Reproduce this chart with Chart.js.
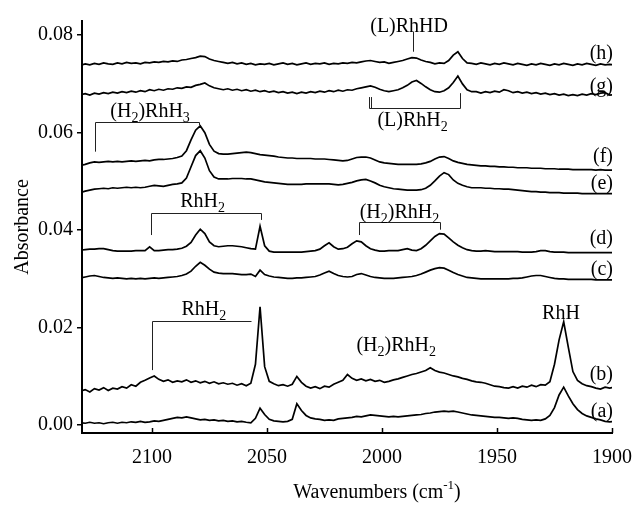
<!DOCTYPE html>
<html><head><meta charset="utf-8">
<script src="https://cdn.jsdelivr.net/npm/chart.js@4/dist/chart.umd.min.js"></script>
<style>html,body{margin:0;padding:0;background:#fff;}canvas{display:block;}</style>
</head><body>
<canvas id="c" width="634" height="506"></canvas>
<script>
const wavenumbers = [2131,2129,2127,2125,2123,2121,2119,2117,2115,2113,
2111,2109,2107,2105,2103,2101,2099,2097,2095,2093,
2091,2089,2087,2085,2083,2081,2079,2077,2075,2073,
2071,2069,2067,2065,2063,2061,2059,2057,2055,2053,
2051,2049,2047,2045,2043,2041,2039,2037,2035,2033,
2031,2029,2027,2025,2023,2021,2019,2017,2015,2013,
2011,2009,2007,2005,2003,2001,1999,1997,1995,1993,
1991,1989,1987,1985,1983,1981,1979,1977,1975,1973,
1971,1969,1967,1965,1963,1961,1959,1957,1955,1953,
1951,1949,1947,1945,1943,1941,1939,1937,1935,1933,
1931,1929,1927,1925,1923,1921,1919,1917,1915,1913,
1911,1909,1907,1905,1903,1901,1899];

const traceA = [0.0005,0.0004,0.0006,0.0004,0.0005,0.0003,0.0005,0.0006,0.0004,0.0006,
0.0005,0.0007,0.0006,0.0008,0.0006,0.0007,0.0009,0.0008,0.0010,0.0012,
0.0014,0.0016,0.0015,0.0017,0.0015,0.0013,0.0011,0.0012,0.0010,0.0011,
0.0009,0.0010,0.0008,0.0009,0.0007,0.0008,0.0006,0.0005,0.0014,0.0035,
0.0022,0.0012,0.0009,0.0008,0.0007,0.0008,0.0012,0.0044,0.0030,0.0020,
0.0015,0.0013,0.0012,0.0010,0.0011,0.0010,0.0013,0.0014,0.0015,0.0016,
0.0018,0.0017,0.0019,0.0021,0.0020,0.0019,0.0018,0.0017,0.0018,0.0017,
0.0018,0.0019,0.0020,0.0021,0.0022,0.0024,0.0025,0.0027,0.0028,0.0029,
0.0028,0.0029,0.0027,0.0025,0.0023,0.0021,0.0020,0.0019,0.0018,0.0017,
0.0016,0.0016,0.0015,0.0014,0.0015,0.0014,0.0012,0.0011,0.0010,0.0011,
0.0010,0.0013,0.0020,0.0036,0.0062,0.0078,0.0060,0.0044,0.0032,0.0024,
0.0019,0.0016,0.0013,0.0011,0.0008,0.0007,0.0008];

const traceB = [0.0070,0.0073,0.0068,0.0075,0.0072,0.0077,0.0071,0.0076,0.0074,0.0079,
0.0076,0.0083,0.0080,0.0088,0.0092,0.0097,0.0101,0.0094,0.0090,0.0093,
0.0088,0.0091,0.0089,0.0093,0.0088,0.0091,0.0087,0.0090,0.0086,0.0089,
0.0085,0.0087,0.0084,0.0086,0.0082,0.0085,0.0081,0.0086,0.0125,0.0243,
0.0120,0.0090,0.0085,0.0081,0.0083,0.0080,0.0084,0.0100,0.0088,0.0080,
0.0076,0.0079,0.0075,0.0080,0.0078,0.0084,0.0088,0.0092,0.0104,0.0096,
0.0092,0.0095,0.0091,0.0094,0.0090,0.0092,0.0088,0.0090,0.0093,0.0095,
0.0098,0.0101,0.0104,0.0106,0.0109,0.0112,0.0118,0.0112,0.0109,0.0107,
0.0104,0.0101,0.0099,0.0096,0.0094,0.0091,0.0089,0.0088,0.0086,0.0083,
0.0080,0.0079,0.0077,0.0076,0.0079,0.0076,0.0080,0.0078,0.0082,0.0079,
0.0083,0.0082,0.0089,0.0125,0.0175,0.0212,0.0160,0.0110,0.0092,0.0085,
0.0081,0.0079,0.0076,0.0074,0.0078,0.0076,0.0078];

const traceC = [0.0302,0.0304,0.0306,0.0307,0.0305,0.0303,0.0302,0.0301,0.0302,0.0301,
0.0300,0.0301,0.0300,0.0301,0.0300,0.0301,0.0302,0.0301,0.0302,0.0303,
0.0304,0.0305,0.0307,0.0310,0.0316,0.0326,0.0334,0.0328,0.0320,0.0314,
0.0312,0.0311,0.0311,0.0311,0.0310,0.0309,0.0309,0.0310,0.0305,0.0318,
0.0309,0.0306,0.0304,0.0303,0.0302,0.0301,0.0301,0.0302,0.0302,0.0303,
0.0304,0.0305,0.0308,0.0312,0.0316,0.0311,0.0307,0.0305,0.0304,0.0305,
0.0309,0.0311,0.0308,0.0305,0.0303,0.0302,0.0301,0.0301,0.0301,0.0302,
0.0303,0.0304,0.0305,0.0307,0.0310,0.0314,0.0318,0.0321,0.0323,0.0322,
0.0318,0.0313,0.0309,0.0306,0.0303,0.0302,0.0301,0.0300,0.0300,0.0300,
0.0300,0.0300,0.0300,0.0300,0.0301,0.0301,0.0302,0.0304,0.0306,0.0307,
0.0307,0.0305,0.0303,0.0301,0.0300,0.0300,0.0299,0.0299,0.0299,0.0299,
0.0299,0.0299,0.0298,0.0298,0.0298,0.0298,0.0298];

const traceD = [0.0359,0.0360,0.0361,0.0361,0.0362,0.0362,0.0360,0.0358,0.0357,0.0357,
0.0357,0.0357,0.0358,0.0358,0.0358,0.0366,0.0358,0.0358,0.0359,0.0360,
0.0360,0.0361,0.0363,0.0367,0.0375,0.0390,0.0402,0.0393,0.0376,0.0368,
0.0366,0.0367,0.0368,0.0368,0.0367,0.0366,0.0364,0.0362,0.0361,0.0408,
0.0368,0.0357,0.0355,0.0355,0.0355,0.0355,0.0355,0.0355,0.0355,0.0356,
0.0357,0.0358,0.0361,0.0368,0.0374,0.0366,0.0361,0.0362,0.0365,0.0372,
0.0378,0.0376,0.0368,0.0362,0.0359,0.0357,0.0357,0.0358,0.0358,0.0358,
0.0360,0.0362,0.0359,0.0358,0.0362,0.0369,0.0378,0.0387,0.0393,0.0392,
0.0384,0.0376,0.0369,0.0364,0.0360,0.0358,0.0357,0.0357,0.0358,0.0357,
0.0356,0.0356,0.0356,0.0356,0.0356,0.0356,0.0355,0.0355,0.0355,0.0356,
0.0358,0.0358,0.0356,0.0355,0.0355,0.0355,0.0354,0.0354,0.0354,0.0354,
0.0354,0.0354,0.0354,0.0354,0.0354,0.0354,0.0354];

const traceE = [0.0477,0.0480,0.0482,0.0484,0.0485,0.0486,0.0485,0.0487,0.0486,0.0487,
0.0488,0.0487,0.0488,0.0487,0.0488,0.0490,0.0492,0.0491,0.0490,0.0492,
0.0494,0.0495,0.0497,0.0507,0.0530,0.0553,0.0563,0.0548,0.0522,0.0509,
0.0505,0.0505,0.0505,0.0506,0.0506,0.0506,0.0505,0.0505,0.0503,0.0501,
0.0499,0.0498,0.0497,0.0496,0.0495,0.0494,0.0494,0.0494,0.0494,0.0495,
0.0495,0.0495,0.0495,0.0495,0.0495,0.0494,0.0493,0.0494,0.0496,0.0498,
0.0501,0.0503,0.0504,0.0501,0.0497,0.0492,0.0489,0.0487,0.0485,0.0484,
0.0483,0.0482,0.0482,0.0482,0.0483,0.0486,0.0492,0.0501,0.0511,0.0518,
0.0514,0.0503,0.0496,0.0492,0.0489,0.0487,0.0487,0.0487,0.0486,0.0486,
0.0485,0.0485,0.0484,0.0484,0.0483,0.0482,0.0481,0.0480,0.0479,0.0479,
0.0478,0.0478,0.0477,0.0477,0.0477,0.0476,0.0476,0.0476,0.0476,0.0475,
0.0475,0.0475,0.0475,0.0475,0.0475,0.0475,0.0475];

const traceF = [0.0533,0.0535,0.0538,0.0540,0.0539,0.0540,0.0541,0.0540,0.0541,0.0540,
0.0541,0.0542,0.0541,0.0542,0.0543,0.0542,0.0544,0.0545,0.0545,0.0546,
0.0547,0.0549,0.0552,0.0563,0.0585,0.0605,0.0614,0.0600,0.0576,0.0562,
0.0557,0.0556,0.0556,0.0557,0.0558,0.0559,0.0560,0.0559,0.0557,0.0555,
0.0554,0.0553,0.0552,0.0550,0.0549,0.0548,0.0548,0.0547,0.0547,0.0547,
0.0547,0.0546,0.0546,0.0546,0.0545,0.0544,0.0543,0.0542,0.0543,0.0546,
0.0549,0.0550,0.0550,0.0548,0.0544,0.0540,0.0538,0.0537,0.0536,0.0535,
0.0535,0.0535,0.0535,0.0535,0.0536,0.0538,0.0541,0.0546,0.0550,0.0551,
0.0547,0.0542,0.0539,0.0537,0.0535,0.0534,0.0533,0.0532,0.0532,0.0531,
0.0531,0.0530,0.0530,0.0529,0.0529,0.0528,0.0528,0.0528,0.0527,0.0527,
0.0527,0.0526,0.0526,0.0526,0.0525,0.0525,0.0525,0.0524,0.0524,0.0524,
0.0524,0.0524,0.0523,0.0524,0.0523,0.0523,0.0523];

const traceG = [0.0678,0.0680,0.0677,0.0681,0.0679,0.0682,0.0680,0.0683,0.0681,0.0684,
0.0682,0.0685,0.0683,0.0686,0.0684,0.0688,0.0686,0.0689,0.0687,0.0690,
0.0689,0.0692,0.0691,0.0694,0.0693,0.0697,0.0699,0.0702,0.0696,0.0692,
0.0690,0.0688,0.0690,0.0687,0.0689,0.0686,0.0688,0.0685,0.0687,0.0684,
0.0686,0.0683,0.0685,0.0682,0.0684,0.0681,0.0683,0.0680,0.0683,0.0681,
0.0684,0.0682,0.0685,0.0683,0.0686,0.0684,0.0687,0.0685,0.0688,0.0687,
0.0690,0.0692,0.0694,0.0696,0.0693,0.0689,0.0686,0.0684,0.0686,0.0688,
0.0692,0.0697,0.0704,0.0707,0.0701,0.0694,0.0688,0.0684,0.0683,0.0686,
0.0692,0.0703,0.0716,0.0700,0.0688,0.0684,0.0684,0.0681,0.0684,0.0682,
0.0685,0.0683,0.0688,0.0686,0.0682,0.0684,0.0681,0.0683,0.0680,0.0682,
0.0679,0.0681,0.0678,0.0680,0.0677,0.0679,0.0676,0.0678,0.0676,0.0679,
0.0677,0.0680,0.0678,0.0681,0.0682,0.0677,0.0678];

const traceH = [0.0738,0.0741,0.0739,0.0742,0.0740,0.0743,0.0741,0.0740,0.0743,0.0741,
0.0744,0.0742,0.0743,0.0741,0.0744,0.0743,0.0745,0.0744,0.0746,0.0745,
0.0747,0.0746,0.0749,0.0750,0.0752,0.0754,0.0757,0.0756,0.0751,0.0748,
0.0746,0.0744,0.0742,0.0744,0.0741,0.0743,0.0740,0.0742,0.0739,0.0741,
0.0740,0.0742,0.0739,0.0741,0.0743,0.0740,0.0742,0.0739,0.0741,0.0743,
0.0740,0.0742,0.0741,0.0743,0.0740,0.0742,0.0741,0.0743,0.0742,0.0744,
0.0743,0.0745,0.0747,0.0748,0.0746,0.0744,0.0745,0.0742,0.0744,0.0746,
0.0748,0.0751,0.0754,0.0753,0.0749,0.0746,0.0744,0.0741,0.0743,0.0742,
0.0748,0.0759,0.0766,0.0752,0.0743,0.0742,0.0740,0.0743,0.0741,0.0739,
0.0742,0.0740,0.0743,0.0741,0.0739,0.0742,0.0740,0.0738,0.0741,0.0739,
0.0742,0.0740,0.0738,0.0741,0.0739,0.0742,0.0740,0.0738,0.0741,0.0739,
0.0742,0.0740,0.0738,0.0741,0.0739,0.0740,0.0739];

const xTicks = [2100, 2050, 2000, 1950, 1900];
const yTicks = [0.00, 0.02, 0.04, 0.06, 0.08];

const traceLabels = ['(a)', '(b)', '(c)', '(d)', '(e)', '(f)', '(g)', '(h)'];
const traceLabelY = [0.0031, 0.0107, 0.0322, 0.0384, 0.0497, 0.0553, 0.0697, 0.0765];
const traceLabelX = 1900;

// annotation texts ("_n" marks a subscript)
const annoTexts = ['(L)RhHD', '(L)RhH_2', '(H_2)RhH_3', 'RhH_2', '(H_2)RhH_2', 'RhH_2', '(H_2)RhH_2', 'RhH'];
const annoTextX = [1988.2, 1986.7, 2100.8, 2078.0, 1992.4, 2077.4, 1993.8, 1922.2];
const annoTextY = [0.0821, 0.0627, 0.0646, 0.0462, 0.0438, 0.0240, 0.0166, 0.0232];

// brackets
const bracketLeft = [2005.7, 2124.9, 2100.5, 2010.0, 2100.0];
const bracketRight = [1966.1, 2079.5, 2052.7, 1974.7, 2057.1];
const bracketY = [0.0650, 0.0622, 0.0436, 0.0417, 0.0213];
const bracketLeftEnd = [0.0673, 0.0561, 0.0390, 0.0390, 0.0113];
const bracketRightEnd = [0.0681, 0.0615, 0.0421, 0.0401, null];

// single marker lines
const stickX = [1986.6, 2004.7];
const stickTop = [0.0807, 0.0673];
const stickBottom = [0.0766, 0.0650];

const series = [traceA, traceB, traceC, traceD, traceE, traceF, traceG, traceH];

const FONT = '"Liberation Serif", "Times New Roman", serif';

function drawRich(ctx, str, cx, cy, size) {
  const parts = str.split(/_(\d)/);
  let w = 0;
  parts.forEach((p, i) => {
    ctx.font = (i % 2 ? Math.round(size * 0.7) : size) + 'px ' + FONT;
    w += ctx.measureText(p).width;
  });
  let xx = cx - w / 2;
  ctx.textAlign = 'left';
  ctx.textBaseline = 'alphabetic';
  const base = cy + size * 0.33;
  parts.forEach((p, i) => {
    const sub = i % 2 === 1;
    ctx.font = (sub ? Math.round(size * 0.7) : size) + 'px ' + FONT;
    ctx.fillText(p, xx, base + (sub ? size * 0.25 : 0));
    xx += ctx.measureText(p).width;
  });
}

const annoPlugin = {
  id: 'anno',
  afterDatasetsDraw(chart) {
    const { ctx, chartArea } = chart;
    const x = chart.scales.x, y = chart.scales.y;
    const px = v => x.getPixelForValue(v);
    const py = v => y.getPixelForValue(v);
    ctx.save();
    // inward x ticks
    ctx.strokeStyle = '#000';
    ctx.lineWidth = 1.5;
    xTicks.forEach(v => {
      const p = Math.round(px(v)) + 0.5;
      ctx.beginPath();
      ctx.moveTo(p, chartArea.bottom);
      ctx.lineTo(p, chartArea.bottom - 5);
      ctx.stroke();
    });
    // brackets
    ctx.strokeStyle = '#222';
    ctx.lineWidth = 1;
    for (let i = 0; i < bracketLeft.length; i++) {
      const xl = Math.round(px(bracketLeft[i])) + 0.5;
      const xr = Math.round(px(bracketRight[i])) + 0.5;
      const yy = Math.round(py(bracketY[i])) + 0.5;
      ctx.beginPath();
      ctx.moveTo(xl, py(bracketLeftEnd[i]));
      ctx.lineTo(xl, yy);
      ctx.lineTo(xr, yy);
      if (bracketRightEnd[i] !== null) ctx.lineTo(xr, py(bracketRightEnd[i]));
      ctx.stroke();
    }
    for (let i = 0; i < stickX.length; i++) {
      const xs = Math.round(px(stickX[i])) + 0.5;
      ctx.beginPath();
      ctx.moveTo(xs, py(stickTop[i]));
      ctx.lineTo(xs, py(stickBottom[i]));
      ctx.stroke();
    }
    // annotation texts
    ctx.fillStyle = '#000';
    for (let i = 0; i < annoTexts.length; i++) {
      drawRich(ctx, annoTexts[i], px(annoTextX[i]), py(annoTextY[i]), 20);
    }
    // trace labels
    ctx.font = '20px ' + FONT;
    ctx.textAlign = 'right';
    ctx.textBaseline = 'alphabetic';
    for (let i = 0; i < traceLabels.length; i++) {
      ctx.fillText(traceLabels[i], px(traceLabelX) + 1, py(traceLabelY[i]) + 6.5);
    }
    // axis titles
    ctx.save();
    ctx.translate(28, (chartArea.top + chartArea.bottom) / 2);
    ctx.rotate(-Math.PI / 2);
    ctx.textAlign = 'center';
    ctx.textBaseline = 'alphabetic';
    ctx.font = '20px ' + FONT;
    ctx.fillText('Absorbance', 0, 0);
    ctx.restore();

    const mainT = 'Wavenumbers (cm', supT = '-1', endT = ')';
    ctx.font = '20px ' + FONT;
    const w1 = ctx.measureText(mainT).width, w3 = ctx.measureText(endT).width;
    ctx.font = '13px ' + FONT;
    const w2 = ctx.measureText(supT).width;
    let tx = 377 - (w1 + w2 + w3) / 2;
    const tb = 498;
    ctx.textAlign = 'left';
    ctx.font = '20px ' + FONT;
    ctx.fillText(mainT, tx, tb); tx += w1;
    ctx.font = '13px ' + FONT;
    ctx.fillText(supT, tx, tb - 9); tx += w2;
    ctx.font = '20px ' + FONT;
    ctx.fillText(endT, tx, tb);
    ctx.restore();
  }
};

new Chart(document.getElementById('c'), {
  type: 'line',
  data: {
    datasets: series.map(s => ({
      data: wavenumbers.map((w, i) => ({ x: w, y: s[i] })),
      borderColor: '#000',
      borderWidth: 1.7,
      pointRadius: 0,
      tension: 0,
      fill: false
    }))
  },
  options: {
    responsive: false,
    animation: false,
    devicePixelRatio: 1,
    layout: { padding: { top: 21, right: 22, left: 0, bottom: 0 } },
    plugins: { legend: { display: false }, tooltip: { enabled: false } },
    scales: {
      x: {
        type: 'linear', reverse: true, min: 1900, max: 2130.4,
        afterBuildTicks: s => { s.ticks = xTicks.map(v => ({ value: v })); },
        afterFit: s => { s.height = 73; s.paddingLeft = 0; s.paddingRight = 0; },
        grid: { display: true, drawOnChartArea: false, drawTicks: false },
        border: { display: true, color: '#000', width: 2 },
        ticks: { font: { family: FONT, size: 20 }, color: '#000', padding: 13, maxRotation: 0, autoSkip: false, callback: v => String(v) }
      },
      y: {
        type: 'linear', min: -0.0016, max: 0.0829,
        afterBuildTicks: s => { s.ticks = yTicks.map(v => ({ value: v })); },
        afterFit: s => { s.width = 82; s.paddingTop = 0; s.paddingBottom = 0; },
        grid: { display: true, drawOnChartArea: false, drawTicks: true, tickLength: 5, color: '#000', lineWidth: 1.5 },
        border: { display: true, color: '#000', width: 2 },
        ticks: { font: { family: FONT, size: 20 }, color: '#000', padding: 4, callback: v => v.toFixed(2) }
      }
    }
  },
  plugins: [annoPlugin]
});
</script>
</body></html>
